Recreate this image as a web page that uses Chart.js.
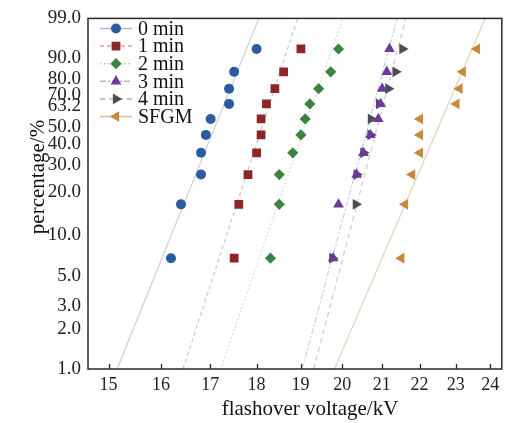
<!DOCTYPE html>
<html>
<head>
<meta charset="utf-8">
<script src="https://cdn.jsdelivr.net/npm/chart.js@4.4.1/dist/chart.umd.min.js"></script>
<style>
  body { margin: 0; background: #fff; }
  #wrap { width: 508px; height: 423px; }
</style>
</head>
<body>
<div id="wrap"><canvas id="weibullChart"></canvas></div>
<script>
// median ranks (%) shared by every series (10 shots each)
const ranks = [6.73, 16.35, 25.96, 35.58, 45.19, 54.81, 64.42, 74.04, 83.65, 93.27];

const seriesNames = ['0 min', '1 min', '2 min', '3 min', '4 min', 'SFGM'];

// flashover voltages in kV, sorted, one per rank
const v0min = [16.20, 16.40, 16.81, 16.81, 16.91, 17.01, 17.40, 17.40, 17.51, 18.00];
const v1min = [17.51, 17.61, 17.81, 18.00, 18.10, 18.10, 18.22, 18.41, 18.61, 19.01];
const v2min = [18.31, 18.51, 18.51, 18.82, 19.01, 19.11, 19.22, 19.43, 19.72, 19.91];
const v3min = [19.78, 19.91, 20.36, 20.53, 20.71, 20.91, 20.97, 21.01, 21.13, 21.20];
const v4min = [19.76, 20.34, 20.36, 20.53, 20.71, 20.72, 20.93, 21.17, 21.36, 21.54];
const vSfgm = [21.51, 21.61, 21.80, 22.01, 22.01, 22.01, 23.02, 23.11, 23.20, 23.61];

// fitted Weibull lines: voltage where each line meets 1 % and 99 %
const fitLow = [15.16, 16.44, 17.22, 19.04, 19.31, 19.81];
const fitHigh = [18.05, 18.93, 20.01, 21.40, 21.63, 23.85];

const xTicks = [15, 16, 17, 18, 19, 20, 21, 22, 23, 24];
const yTicks = [1, 2, 3, 5, 10, 20, 30, 40, 50, 63.2, 70, 80, 90, 99];

const seriesValues = [v0min, v1min, v2min, v3min, v4min, vSfgm];
const markerColors = ['#2c5b9e', '#8e2529', '#3b8440', '#6c3a98', '#4d4d4f', '#c48a3e'];
const lineColors = ['#c9cfdb', '#dcc2c4', '#c9dcc9', '#d2cade', '#cccccc', '#e6d3bb'];
const legendLineColors = ['#aebbd6', '#d7a6a8', '#a9cfa9', '#bfb0d6', '#b5b5b5', '#dfbf98'];
const markerStyles = ['circle', 'rect', 'rectRot', 'triangle', 'triangle', 'triangle'];
const markerRotations = [0, 0, 0, 0, 90, -90];
const markerRadius = [5, 6.2, 5.6, 6.2, 6.2, 6.2];
const lineDashes = [[], [4, 3], [1.5, 2.5], [6, 2, 2, 2], [5, 4], []];

const weib = p => Math.log(-Math.log(1 - p / 100));
const FONT = "'Liberation Serif', 'Times New Roman', serif";

Chart.defaults.font.family = FONT;
Chart.defaults.color = '#222';

const pointSets = seriesValues.map((vals, i) => ({
    label: seriesNames[i],
    data: vals.map((x, j) => ({ x: x, y: weib(ranks[j]) })),
    showLine: false,
    pointStyle: markerStyles[i],
    rotation: markerRotations[i],
    pointRadius: markerRadius[i],
    pointHoverRadius: markerRadius[i],
    backgroundColor: markerColors[i],
    borderColor: markerColors[i],
    borderWidth: 0,
    order: 1
}));

const fitSets = seriesValues.map((vals, i) => ({
    label: seriesNames[i] + ' fit',
    data: [{ x: fitLow[i], y: weib(1) }, { x: fitHigh[i], y: weib(99) }],
    showLine: true,
    pointRadius: 0,
    borderColor: lineColors[i],
    borderWidth: 1.2,
    borderDash: lineDashes[i],
    order: 2
}));

const decorations = {
    id: 'decorations',
    afterDraw(chart) {
        const ctx = chart.ctx;
        const a = chart.chartArea;
        const xs = chart.scales.x;
        ctx.save();

        // frame
        ctx.strokeStyle = '#2a2a2a';
        ctx.lineWidth = 1.5;
        ctx.strokeRect(a.left, a.top, a.right - a.left, a.bottom - a.top);

        // inward ticks on the x axis
        ctx.lineWidth = 1.3;
        xTicks.forEach(v => {
            const px = Math.round(xs.getPixelForValue(v)) + 0.5;
            ctx.beginPath();
            ctx.moveTo(px, a.bottom);
            ctx.lineTo(px, a.bottom - 5);
            ctx.stroke();
        });

        // legend: line sample + marker + name
        ctx.font = '20px ' + FONT;
        ctx.textBaseline = 'middle';
        ctx.textAlign = 'left';
        seriesNames.forEach((name, i) => {
            const y = 28.5 + i * 17.6;
            ctx.strokeStyle = legendLineColors[i];
            ctx.lineWidth = 1.5;
            ctx.setLineDash(lineDashes[i]);
            ctx.beginPath();
            ctx.moveTo(100, y);
            ctx.lineTo(132, y);
            ctx.stroke();
            ctx.setLineDash([]);
            ctx.fillStyle = markerColors[i];
            ctx.strokeStyle = markerColors[i];
            Chart.helpers.drawPoint(ctx, {
                pointStyle: markerStyles[i],
                rotation: markerRotations[i],
                radius: markerRadius[i],
                borderWidth: 0
            }, 116, y);
            ctx.fillStyle = '#111';
            ctx.fillText(name, 138, y + 1);
        });

        // axis titles
        ctx.fillStyle = '#111';
        ctx.font = '21px ' + FONT;
        ctx.textAlign = 'center';
        ctx.textBaseline = 'alphabetic';
        ctx.fillText('flashover voltage/kV', 310, 415);
        ctx.translate(44, 177);
        ctx.rotate(-Math.PI / 2);
        ctx.fillText('percentage/%', 0, 0);
        ctx.restore();
    }
};

new Chart(document.getElementById('weibullChart'), {
    type: 'scatter',
    data: { datasets: pointSets.concat(fitSets) },
    options: {
        responsive: true,
        maintainAspectRatio: false,
        animation: false,
        layout: { padding: { top: 14, right: 5, left: 0, bottom: 0 } },
        plugins: {
            legend: { display: false },
            tooltip: { enabled: false }
        },
        scales: {
            x: {
                type: 'logarithmic',
                min: 14.626,
                max: 24.344,
                afterBuildTicks: axis => { axis.ticks = xTicks.map(v => ({ value: v })); },
                afterFit: axis => { axis.height = 54; },
                grid: { display: false, drawTicks: false },
                border: { display: false },
                ticks: {
                    autoSkip: false,
                    maxRotation: 0,
                    padding: 5,
                    color: '#222',
                    font: { size: 18 },
                    callback: v => String(v)
                }
            },
            y: {
                type: 'linear',
                min: weib(1),
                max: weib(99),
                afterBuildTicks: axis => { axis.ticks = yTicks.map(p => ({ value: weib(p) })); },
                afterFit: axis => { axis.width = 88; },
                grid: { display: false, drawTicks: false },
                border: { display: false },
                ticks: {
                    autoSkip: false,
                    padding: 7,
                    color: '#222',
                    font: { size: 19 },
                    callback: (v, i) => yTicks[i].toFixed(1)
                }
            }
        }
    },
    plugins: [decorations]
});
</script>
</body>
</html>
